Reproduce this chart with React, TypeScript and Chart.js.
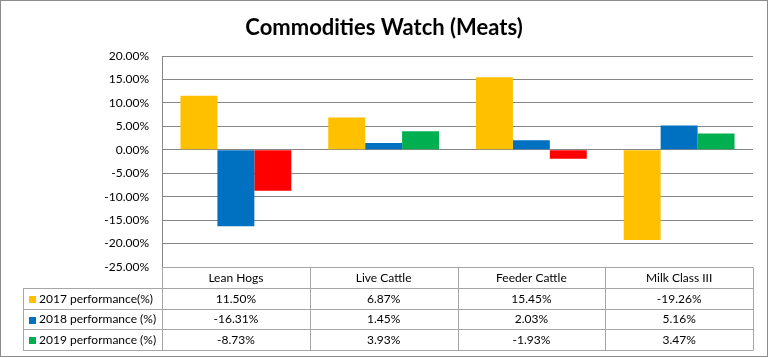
import React, { useEffect, useRef } from "react";
import { Chart, registerables } from "chart.js";

Chart.register(...registerables);

const categories = ["Lean Hogs", "Live Cattle", "Feeder Cattle", "Milk Class III"];
const perf2017 = [11.5, 6.87, 15.45, -19.26];
const perf2018 = [-16.31, 1.45, 2.03, 5.16];
const perf2019 = [-8.73, 3.93, -1.93, 3.47];
const seriesLabels = ["2017 performance(%)", "2018 performance (%)", "2019 performance (%)"];
const yMin = -25;
const yMax = 20;
const yStep = 5;
const title = "Commodities Watch (Meats)";

const YELLOW = "#FFC000";
const BLUE = "#0070C0";
const GREEN = "#00B050";
const RED = "#FF0000";
const FONT = "Lato, 'Liberation Sans', sans-serif";

const fmt = (v: number) => `${v.toFixed(2)}%`;

const tablePlugin = {
  id: "excelTable",
  afterDraw(chart: any) {
    const ctx: CanvasRenderingContext2D = chart.ctx;
    const { left, right, bottom } = chart.chartArea;
    const xs = chart.scales.x;
    const n = categories.length;
    const colW = (right - left) / n;
    const rowH = 20.75;
    const legendLeft = 23;
    const rows = [perf2017, perf2018, perf2019];
    const colors = [YELLOW, BLUE, GREEN];
    ctx.save();
    // title
    ctx.fillStyle = "#000";
    ctx.font = `bold 22px ${FONT}`;
    ctx.textAlign = "center";
    ctx.textBaseline = "middle";
    ctx.fillText(title, 384, 28);

    // table lines
    ctx.strokeStyle = "#A6A6A6";
    ctx.lineWidth = 1;
    const yTop = Math.round(bottom) + 0.5;
    const yRows = [0, 1, 2, 3, 4].map((i) => Math.round(bottom + rowH * i) + 0.5);
    ctx.beginPath();
    ctx.moveTo(left, yTop);
    ctx.lineTo(right, yTop);
    for (let i = 1; i < yRows.length; i++) {
      ctx.moveTo(legendLeft, yRows[i]);
      ctx.lineTo(right, yRows[i]);
    }
    ctx.moveTo(legendLeft + 0.5, yRows[1]);
    ctx.lineTo(legendLeft + 0.5, yRows[4]);
    for (let k = 0; k <= n; k++) {
      const x = Math.round(left + colW * k) + 0.5;
      ctx.moveTo(x, k === 0 ? yRows[1] - rowH : yTop);
      ctx.lineTo(x, yRows[4]);
    }
    ctx.stroke();

    // header
    ctx.fillStyle = "#000";
    ctx.font = `12px ${FONT}`;
    ctx.textAlign = "center";
    ctx.textBaseline = "middle";
    categories.forEach((c, i) => {
      ctx.fillText(c, xs.getPixelForValue(i), (yRows[0] + yRows[1]) / 2);
    });
    rows.forEach((arr, r) => {
      const yc = (yRows[r + 1] + yRows[r + 2]) / 2;
      ctx.fillStyle = colors[r];
      ctx.fillRect(29, Math.round(yc) - 3, 7, 7);
      ctx.fillStyle = "#000";
      ctx.textAlign = "left";
      ctx.fillText(seriesLabels[r], 39, yc);
      ctx.textAlign = "center";
      arr.forEach((v, i) => {
        ctx.fillText(fmt(v), xs.getPixelForValue(i), yc);
      });
    });

    // outer frame
    ctx.strokeStyle = "#8C8C8C";
    ctx.strokeRect(0.5, 0.5, 767, 356);
    ctx.restore();
  },
};

export default function App() {
  const ref = useRef<HTMLCanvasElement>(null);
  useEffect(() => {
    document.body.style.margin = "0";
    const chart = new Chart(ref.current!, {
      type: "bar",
      data: {
        labels: categories,
        datasets: [
          { label: seriesLabels[0], data: perf2017, backgroundColor: YELLOW },
          { label: seriesLabels[1], data: perf2018, backgroundColor: BLUE },
          {
            label: seriesLabels[2],
            data: perf2019,
            backgroundColor: perf2019.map((v) => (v < 0 ? RED : GREEN)),
          },
        ],
      },
      options: {
        responsive: false,
        animation: false,
        devicePixelRatio: 1,
        layout: { padding: { left: 0, right: 16, top: 56, bottom: 91 } },
        plugins: { legend: { display: false }, title: { display: false }, tooltip: { enabled: false } },
        datasets: { bar: { categoryPercentage: 0.75, barPercentage: 1 } },
        scales: {
          x: { display: false },
          y: {
            min: yMin,
            max: yMax,
            afterFit: (s: any) => {
              s.width = 162;
            },
            ticks: {
              stepSize: yStep,
              padding: 13,
              color: "#000",
              font: { family: FONT, size: 12 },
              callback: (v: any) => fmt(Number(v)),
            },
            grid: { color: "#868686", drawTicks: false },
            border: { color: "#868686" },
          },
        },
      },
      plugins: [tablePlugin],
    });
    return () => chart.destroy();
  }, []);
  return <canvas ref={ref} width={769} height={358} style={{ display: "block" }} />;
}
